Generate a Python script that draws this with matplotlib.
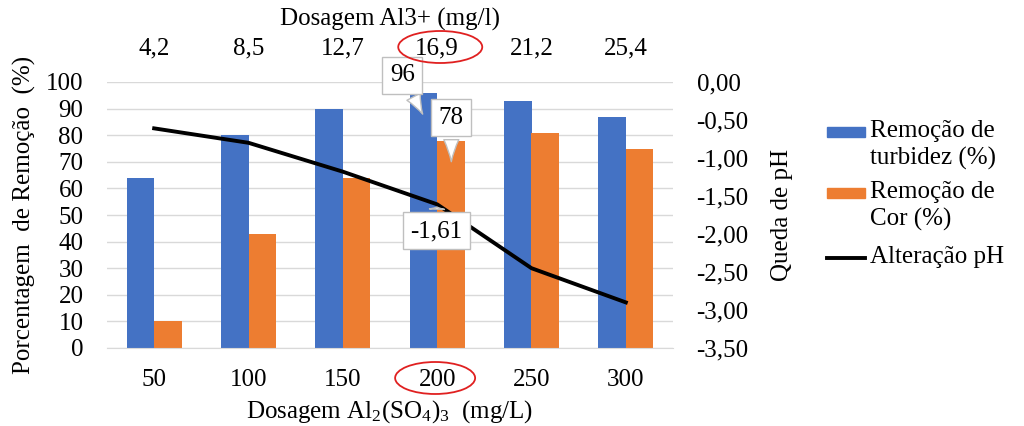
import numpy as np
import matplotlib
matplotlib.use('Agg')
import matplotlib.pyplot as plt
from matplotlib.patches import Ellipse, Rectangle
from matplotlib.lines import Line2D

plt.rcParams['font.family'] = ['Liberation Serif', 'DejaVu Serif']
plt.rcParams['mathtext.fontset'] = 'custom'
plt.rcParams['mathtext.rm'] = 'Liberation Serif'
plt.rcParams['mathtext.it'] = 'Liberation Serif:italic'

# data
dose_al2so4 = ['50', '100', '150', '200', '250', '300']
dose_al3 = ['4,2', '8,5', '12,7', '16,9', '21,2', '25,4']
turbidez = [64, 80, 90, 96, 93, 87]
cor = [10, 43, 64, 78, 81, 75]
ph = [-0.61, -0.80, -1.18, -1.61, -2.45, -2.90]

blue = '#4472C4'
orange = '#ED7D31'
fs = 18
W, H = 1024, 426

fig = plt.figure(figsize=(W / 100, H / 100), dpi=100)
ax = fig.add_axes([107 / W, 1 - 348 / H, 566 / W, 266 / H])

x = np.arange(len(dose_al2so4))
w = 0.29
ax.bar(x - w / 2, turbidez, w, color=blue, zorder=2)
ax.bar(x + w / 2, cor, w, color=orange, zorder=2)

ax.set_xlim(-0.5, len(x) - 0.5)
ax.set_ylim(0, 100)
ax.set_yticks(np.arange(0, 101, 10))
ax.set_xticks(x)
ax.set_xticklabels(dose_al2so4)
ax.yaxis.grid(True, color='#d9d9d9', lw=1, zorder=0)
for s in ['top', 'right', 'left']:
    ax.spines[s].set_visible(False)
ax.spines['bottom'].set_color('#d9d9d9')
ax.tick_params(axis='y', length=0, labelsize=fs, pad=17)
ax.tick_params(axis='x', length=0, labelsize=fs, pad=15)
ax.set_ylabel('Porcentagem  de Remoção  (%)', fontsize=fs, labelpad=7)
ax.set_xlabel(r'Dosagem Al$_{\mathrm{2}}$(SO$_{\mathrm{4}}$)$_{\mathrm{3}}$  (mg/L)',
              fontsize=fs, labelpad=5)

# secondary y axis: pH
ax2 = ax.twinx()
ax2.plot(x, ph, color='black', lw=2.8, zorder=3)
ax2.set_ylim(-3.5, 0)
ax2.set_yticks(np.arange(-3.5, 0.01, 0.5))
ax2.set_yticklabels([('%.2f' % v).replace('.', ',').replace('-0,00', '0,00')
                     for v in np.arange(-3.5, 0.01, 0.5)])
for s in ax2.spines.values():
    s.set_visible(False)
ax2.tick_params(length=0, labelsize=fs, pad=17)
ax2.set_ylabel('Queda de pH', fontsize=fs, labelpad=16)

# top x axis
ax3 = ax.twiny()
ax3.set_xlim(ax.get_xlim())
ax3.set_xticks(x)
ax3.set_xticklabels(dose_al3)
for s in ax3.spines.values():
    s.set_visible(False)
ax3.tick_params(length=0, labelsize=fs, pad=16)
ax3.set_xlabel('Dosagem Al3+ (mg/l)', fontsize=fs, labelpad=9)

# callouts
box = dict(boxstyle='square,pad=0.3', fc='white', ec='#bfbfbf', lw=1)
arr = dict(arrowstyle='wedge,tail_width=0.6,shrink_factor=0.4', fc='white', ec='#bfbfbf', lw=1)
ax.annotate('96', xy=(2.86, 87), xytext=(2.63, 102.5),
            fontsize=fs, ha='center', va='center', bbox=box, arrowprops=arr, zorder=5,
            annotation_clip=False)
ax.annotate('78', xy=(3.15, 69), xytext=(3.15, 86.5),
            fontsize=fs, ha='center', va='center', bbox=box, arrowprops=arr, zorder=5)
ax2.annotate('-1,61', xy=(x[3], ph[3]), xytext=(x[3] - 0.01, -1.96),
             fontsize=fs, ha='center', va='center', bbox=box, arrowprops=arr, zorder=5)

# red ellipses around the selected dose
fig.canvas.draw()
fx = ax.transData.transform((x[3], 0))[0] / W
fig.add_artist(Ellipse((fx + 0.003, 1 - 47 / H), 84 / W, 32 / H, transform=fig.transFigure,
                       fill=False, ec='#e02020', lw=1.3))
fig.add_artist(Ellipse((fx - 0.002, 1 - 378 / H), 80 / W, 32 / H, transform=fig.transFigure,
                       fill=False, ec='#e02020', lw=1.3))

# legend drawn by hand (patch aligned with first text line, like Excel)
labels = ['Remoção de\nturbidez (%)', 'Remoção de\nCor (%)', 'Alteração pH']
colors = [blue, orange, 'black']
rows = [132, 193, 258]
for lab, col, yy in zip(labels, colors, rows):
    if col == 'black':
        fig.add_artist(Line2D([827 / W, 865 / W], [1 - yy / H] * 2, color=col, lw=2.8,
                              transform=fig.transFigure))
    else:
        fig.add_artist(Rectangle((827 / W, 1 - (yy + 5) / H), 38 / W, 10 / H, color=col,
                                 transform=fig.transFigure))
    fig.text(870 / W, 1 - (yy - 12) / H, lab, fontsize=fs, ha='left', va='top',
             linespacing=1.25)

fig.savefig('out.png', dpi=100)
